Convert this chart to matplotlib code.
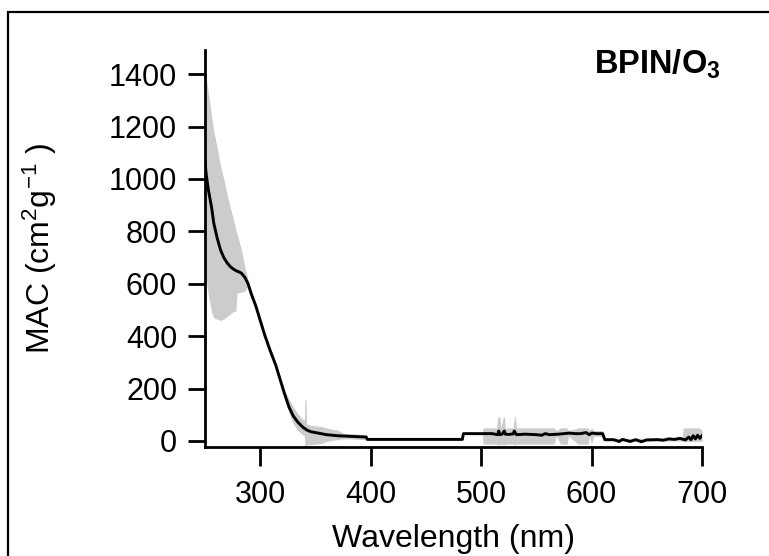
import matplotlib
matplotlib.use("Agg")
import matplotlib.pyplot as plt
from matplotlib.patches import Rectangle

plt.rcParams['font.family'] = ['Liberation Sans', 'DejaVu Sans']
plt.rcParams['mathtext.fontset'] = 'custom'
plt.rcParams['mathtext.rm'] = 'Liberation Sans'
plt.rcParams['mathtext.it'] = 'Liberation Sans'
plt.rcParams['mathtext.bf'] = 'Liberation Sans:bold'

# Mean MAC curve
wavelength = [250, 251, 253, 256, 258, 261, 264, 267, 270, 273, 276, 279, 281, 283, 286, 289,
              292, 296, 300, 304, 309, 314, 318, 322, 326, 330, 334, 338, 340, 341, 342, 346,
              350, 355, 360, 365, 370, 380, 390, 396, 397, 420, 450, 483, 484, 495, 510, 515,
              516, 517, 519, 521, 522, 525, 529, 530, 532, 540, 550, 555, 558, 562, 570, 580,
              585, 590, 595, 598, 600, 605, 610, 612, 620, 625, 628, 635, 640, 645, 650, 660,
              665, 670, 675, 680, 685, 688, 690, 692, 694, 696, 698, 700]
mac = [1070, 1020, 960, 890, 830, 775, 730, 700, 680, 665, 655, 648, 645, 640, 625, 600,
       560, 515, 460, 405, 345, 290, 235, 180, 130, 95, 72, 55, 48, 46, 42, 35,
       32, 28, 24, 22, 20, 18, 16, 15, 6, 6, 6, 6, 28, 28, 28, 24,
       38, 24, 26, 38, 26, 25, 27, 38, 24, 26, 24, 22, 28, 24, 26, 30,
       28, 28, 32, 24, 30, 28, 28, 5, 5, -2, 6, -2, 5, -3, 4, 5,
       3, 8, 6, 10, 4, 15, 5, 20, 8, 22, 10, 20]

# Uncertainty band
band_wl = [250, 251, 253, 256, 258, 261, 264, 267, 270, 273, 276, 278, 279, 283, 286, 289,
           292, 296, 300, 304, 309, 314, 318, 322, 326, 330, 334, 338, 340, 340.5, 341.5, 342,
           346, 350, 355, 360, 365, 370, 375, 380, 390, 396, 397, 483, 484, 501, 502, 514,
           515, 517, 518, 520, 521, 522, 529, 530, 531, 532, 566, 568, 572, 578, 579, 588,
           597, 598, 600, 602, 610, 612, 682, 683, 698, 700]
band_lo = [650, 620, 560, 490, 470, 465, 460, 465, 475, 485, 495, 495, 565, 568, 572, 590,
           550, 505, 450, 395, 335, 280, 225, 168, 105, 65, 40, 25, 20, -22, -22, -15,
           -15, -12, -10, -2, 2, 5, 8, 8, 6, 5, 3, 3, 26, 26, -12, -12,
           -15, -15, -12, -15, -15, -12, -12, -15, -15, -12, -12, 18, -12, -12, 18, -12,
           -12, 18, -12, 18, 18, 0, 0, -2, -2, 0]
band_hi = [1420, 1390, 1330, 1240, 1180, 1120, 1050, 1000, 940, 890, 840, 805, 790, 730, 665, 615,
           575, 528, 472, 416, 356, 300, 246, 195, 160, 130, 105, 85, 80, 157, 157, 65,
           60, 58, 55, 50, 45, 42, 30, 28, 26, 25, 9, 9, 31, 31, 50, 50,
           92, 92, 50, 92, 92, 50, 50, 92, 92, 50, 50, 40, 50, 50, 40, 50,
           50, 40, 50, 40, 40, 10, 10, 50, 50, 40]

x_ticks = [300, 400, 500, 600, 700]
y_ticks = [0, 200, 400, 600, 800, 1000, 1200, 1400]

fig = plt.figure(figsize=(7.69, 5.56), dpi=100)
ax = fig.add_axes([205 / 769, 1 - 447 / 556, 497 / 769, 397 / 556])

ax.fill_between(band_wl, band_lo, band_hi, color='#cccccc', linewidth=0)
ax.plot(wavelength, mac, color='black', linewidth=2.1)

ax.set_xlim(250, 700)
ax.set_ylim(-23, 1492)
ax.set_xticks(x_ticks)
ax.set_yticks(y_ticks)

for s in ['top', 'right']:
    ax.spines[s].set_visible(False)
for s in ['left', 'bottom']:
    ax.spines[s].set_linewidth(2.0)

ax.tick_params(axis='y', direction='out', length=12, width=2.0, labelsize=22, pad=8)
ax.tick_params(axis='x', direction='out', length=13.5, width=2.0, labelsize=22, pad=10)

ax.set_ylabel(r'MAC (cm$^{2}$g$^{-1}$ )', fontsize=23)
ax.yaxis.set_label_coords(-0.294, 0.5)
ax.set_xlabel('Wavelength (nm)', fontsize=23)
ax.xaxis.set_label_coords(0.5, -0.194)

ax.text(717, 1502, r'BPIN/O$_\mathbf{3}$', fontsize=23.5, fontweight='bold',
        ha='right', va='top', transform=ax.transData, clip_on=False)

fig.add_artist(Rectangle((8 / 769, -0.2), 2, 1.2 + (1 - 12 / 556) - 1,
                         transform=fig.transFigure, fill=False, edgecolor='black', linewidth=1.6))

fig.savefig('out.png', dpi=100)
